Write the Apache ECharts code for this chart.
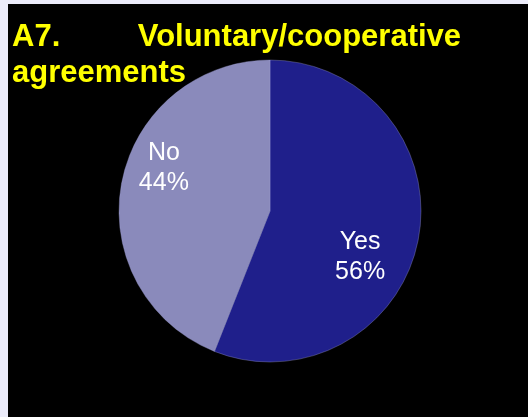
<!DOCTYPE html>
<html><head><meta charset="utf-8">
<script src="https://cdn.jsdelivr.net/npm/echarts@6/dist/echarts.min.js"></script>
<style>
html,body{margin:0;padding:0;background:#ececfa;width:528px;height:417px;overflow:hidden;}
#c{position:absolute;left:8px;top:4px;width:520px;height:413px;background:#000;}
</style></head>
<body><div id="c"></div>
<script>
const categories = ['Yes', 'No'];
const values = [56, 44];
const titleText = 'A7.         Voluntary/cooperative\nagreements';

const colors = {Yes: '#1f1f8b', No: '#8a8abb'};
const labelShift = {Yes: [13, 31], No: [-29, -28]};

const chart = echarts.init(document.getElementById('c'), null, {renderer: 'canvas'});
chart.setOption({
  backgroundColor: '#000',
  animation: false,
  title: {
    text: titleText, left: 4, top: 15, padding: 0,
    textStyle: {color: '#ffff00', fontFamily: 'Liberation Sans, Arial, sans-serif', fontWeight: 'bold', fontSize: 31, lineHeight: 36}
  },
  series: [{
    type: 'pie',
    center: [262, 207],
    radius: [0, 151],
    startAngle: 90,
    clockwise: true,
    silent: true,
    itemStyle: {borderWidth: 1, borderColor: 'rgba(160,160,215,0.35)'},
    label: {
      show: true, position: 'inside', color: '#ffffff',
      fontFamily: 'Liberation Sans, Arial, sans-serif', fontSize: 25, lineHeight: 30,
      formatter: p => p.name + '\n' + p.value + '%'
    },
    labelLine: {show: false},
    labelLayout: p => {
      const s = labelShift[categories[p.dataIndex]];
      return {dx: s[0], dy: s[1]};
    },
    data: categories.map((c, i) => ({name: c, value: values[i], itemStyle: {color: colors[c]}}))
  }]
});
</script></body></html>
